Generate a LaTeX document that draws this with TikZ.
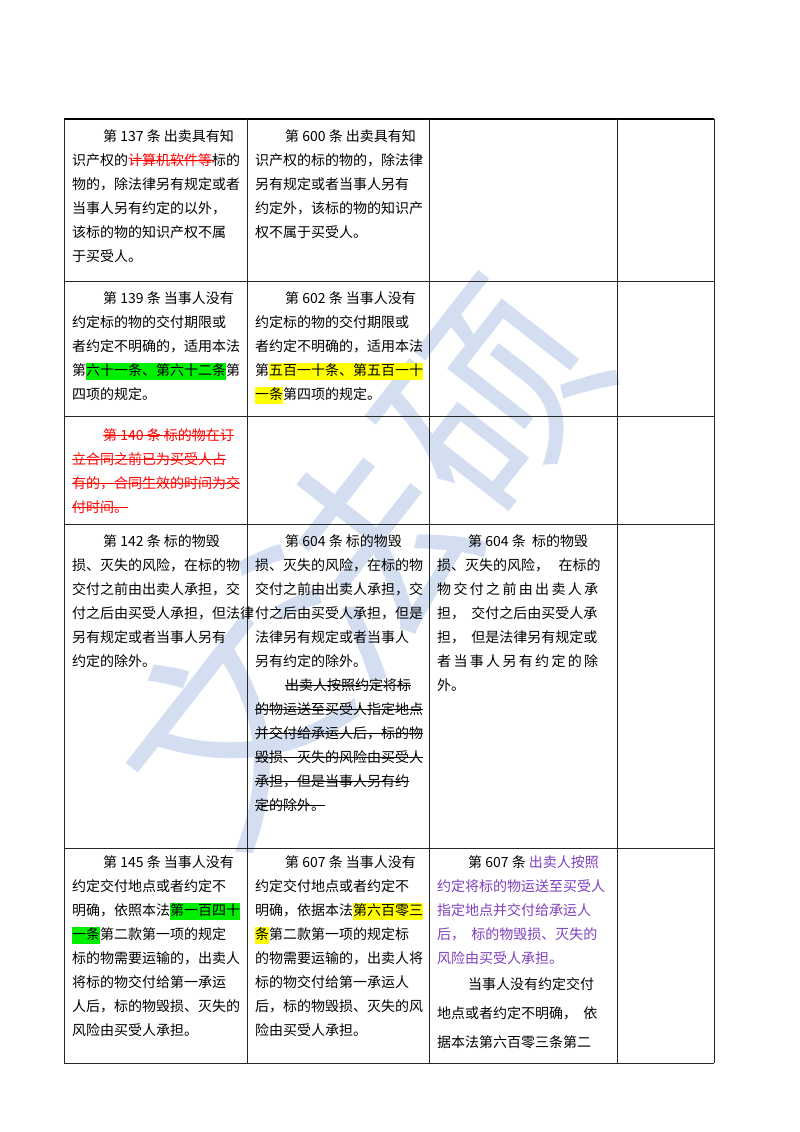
\documentclass[tikz,border=0pt]{standalone}
\usepackage{fontspec}
\setmainfont{Liberation Serif}
\newfontfamily\cjk{Noto Sans CJK SC}
\definecolor{hg}{RGB}{0,238,0}
\definecolor{hy}{RGB}{255,255,0}
\definecolor{pur}{RGB}{128,64,190}
\definecolor{wm}{RGB}{200,214,238}
\newcounter{ln}
\newcommand\hl[2]{{\setlength{\fboxsep}{0pt}\colorbox{#1}{\strut #2}}}
\tikzset{ln/.style={anchor=base west,inner sep=0pt,font=\fontsize{14}{16}\cjk},
 grid/.style={line width=0.7pt,black!85}}
\newcommand\Ln[3]{\stepcounter{ln}\node[ln] (l\theln) at (#1,#2) {#3};}
\newcommand\St[4]{\stepcounter{ln}\node[ln,text=#4] (l\theln) at (#1,#2) {#3};
 \draw[#4,line width=0.8pt] ([yshift=4.5pt]l\theln.base west) -- ([yshift=4.5pt]l\theln.base east);}
\begin{document}
\begin{tikzpicture}[x=1pt,y=-1pt]
\useasboundingbox (0,0) rectangle (800,1132);
\fill[white] (0,0) rectangle (800,1132);
% watermark
\node[text=wm,opacity=0.8,rotate=52,font=\fontsize{210}{210}\cjk] (wm) at (360,560) {文法硕};
% grid
\draw[line width=1.6pt] (64,119) -- (714,119);
\draw[grid] (64,119) -- (64,1063) -- (714,1063);
\foreach \x in {247,429,617,714} \draw[grid] (\x,119) -- (\x,1063);
\foreach \y in {281,416,524,848} \draw[grid] (64,\y) -- (714,\y);
% row 1
\Ln{103}{141}{第 137 条 出卖具有知}
\stepcounter{ln}\node[ln] (l\theln) at (72,165) {识产权的\textcolor{red}{计算机软件等}标的};
\draw[red,line width=0.8pt] (132,160.5) -- (214,160.5);
\Ln{72}{189}{物的，除法律另有规定或者}
\Ln{72}{213}{当事人另有约定的以外，}
\Ln{72}{237}{该标的物的知识产权不属}
\Ln{72}{261}{于买受人。}
\Ln{285}{141}{第 600 条 出卖具有知}
\Ln{255}{165}{识产权的标的物的，除法律}
\Ln{255}{189}{另有规定或者当事人另有}
\Ln{255}{213}{约定外，该标的物的知识产}
\Ln{255}{237}{权不属于买受人。}
% row 2
\Ln{103}{303}{第 139 条 当事人没有}
\Ln{72}{327}{约定标的物的交付期限或}
\Ln{72}{351}{者约定不明确的，适用本法}
\Ln{72}{375}{第\hl{hg}{六十一条、第六十二条}第}
\Ln{72}{399}{四项的规定。}
\Ln{285}{303}{第 602 条 当事人没有}
\Ln{255}{327}{约定标的物的交付期限或}
\Ln{255}{351}{者约定不明确的，适用本法}
\Ln{255}{375}{第\hl{hy}{五百一十条、第五百一十}}
\Ln{255}{399}{\hl{hy}{一条}第四项的规定。}
% row 3
\St{103}{440}{第 140 条 标的物在订}{red}
\St{72}{464}{立合同之前已为买受人占}{red}
\St{72}{488}{有的，合同生效的时间为交}{red}
\St{72}{512}{付时间。}{red}
% row 4
\Ln{103}{546}{第 142 条 标的物毁}
\Ln{72}{570}{损、灭失的风险，在标的物}
\Ln{72}{594}{交付之前由出卖人承担，交}
\Ln{72}{618}{付之后由买受人承担，但法律}
\Ln{72}{642}{另有规定或者当事人另有}
\Ln{72}{666}{约定的除外。}
\Ln{285}{546}{第 604 条 标的物毁}
\Ln{255}{570}{损、灭失的风险，在标的物}
\Ln{255}{594}{交付之前由出卖人承担，交}
\Ln{255}{618}{付之后由买受人承担，但是}
\Ln{255}{642}{法律另有规定或者当事人}
\Ln{255}{666}{另有约定的除外。}
\St{285}{690}{出卖人按照约定将标}{black}
\St{255}{714}{的物运送至买受人指定地点}{black}
\St{255}{738}{并交付给承运人后，标的物}{black}
\St{255}{762}{毁损、灭失的风险由买受人}{black}
\St{255}{786}{承担，但是当事人另有约}{black}
\St{255}{810}{定的除外。}{black}
\Ln{468}{546}{第 604 条\ \ 标的物毁}
\Ln{437}{570}{损、灭失的风险，\ \ \ 在标的}
\Ln{437}{594}{物\,交\,付\,之\,前\,由\,出\,卖\,人\,承}
\Ln{437}{618}{担，\ \ 交付之后由买受人承}
\Ln{437}{642}{担，\ \ 但是法律另有规定或}
\Ln{437}{666}{者\,当\,事\,人\,另\,有\,约\,定\,的\,除}
\Ln{437}{690}{外。}
% row 5
\Ln{103}{867}{第 145 条 当事人没有}
\Ln{72}{891}{约定交付地点或者约定不}
\Ln{72}{915}{明确，依照本法\hl{hg}{第一百四十}}
\Ln{72}{939}{\hl{hg}{一条}第二款第一项的规定}
\Ln{72}{963}{标的物需要运输的，出卖人}
\Ln{72}{987}{将标的物交付给第一承运}
\Ln{72}{1011}{人后，标的物毁损、灭失的}
\Ln{72}{1035}{风险由买受人承担。}
\Ln{285}{867}{第 607 条 当事人没有}
\Ln{255}{891}{约定交付地点或者约定不}
\Ln{255}{915}{明确，依据本法\hl{hy}{第六百零三}}
\Ln{255}{939}{\hl{hy}{条}第二款第一项的规定标}
\Ln{255}{963}{的物需要运输的，出卖人将}
\Ln{255}{987}{标的物交付给第一承运人}
\Ln{255}{1011}{后，标的物毁损、灭失的风}
\Ln{255}{1035}{险由买受人承担。}
\Ln{468}{867}{第 607 条 \textcolor{pur}{出卖人按照}}
\Ln{437}{891}{\textcolor{pur}{约定将标的物运送至买受人}}
\Ln{437}{915}{\textcolor{pur}{指定地点并交付给承运人}}
\Ln{437}{939}{\textcolor{pur}{后，\ \ 标的物毁损、灭失的}}
\Ln{437}{963}{\textcolor{pur}{风险由买受人承担。}}
\Ln{468}{989}{当事人没有约定交付}
\Ln{437}{1018}{地点或者约定不明确，\ \ 依}
\Ln{437}{1047}{据本法第六百零三条第二}
\end{tikzpicture}
\end{document}
